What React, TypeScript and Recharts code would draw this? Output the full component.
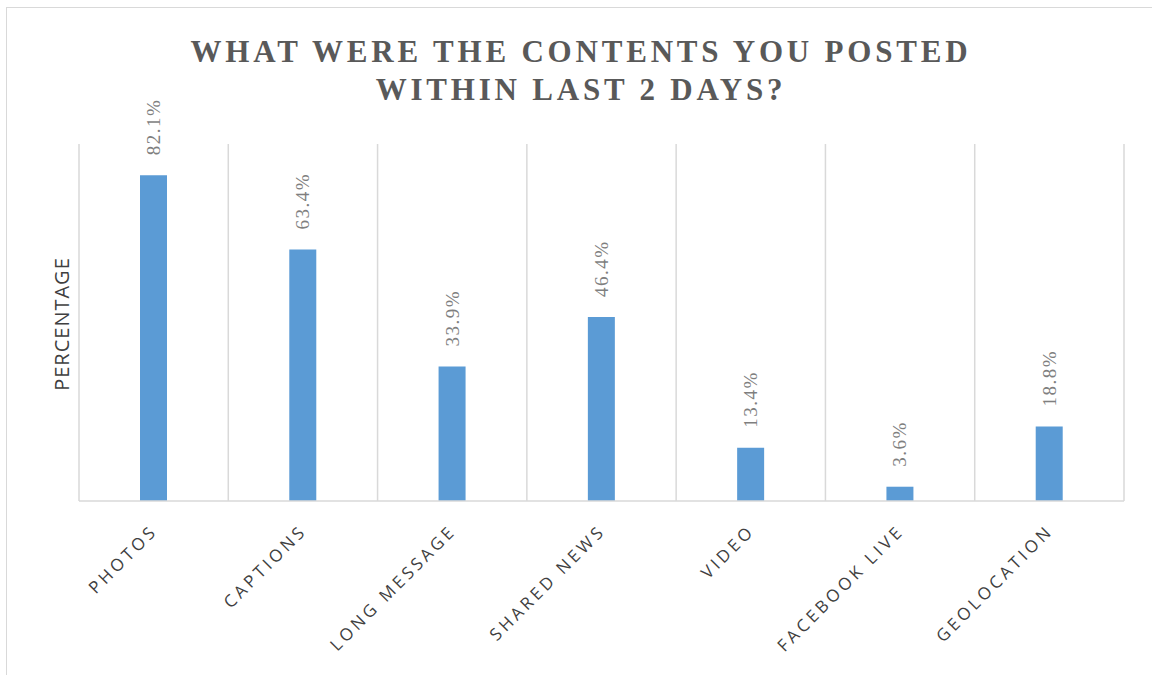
import { BarChart, Bar, XAxis, YAxis, CartesianGrid, LabelList } from 'recharts';

const categories = ['PHOTOS', 'CAPTIONS', 'LONG MESSAGE', 'SHARED NEWS', 'VIDEO', 'FACEBOOK LIVE', 'GEOLOCATION'];
const percentages = [82.1, 63.4, 33.9, 46.4, 13.4, 3.6, 18.8];

const data = categories.map((name, i) => ({ name, value: percentages[i] }));

const CategoryTick = (props: any) => {
  const { x, y, payload } = props;
  const tx = x + 5;
  const ty = y + 23;
  return (
    <text x={tx} y={ty} transform={`rotate(-45, ${tx}, ${ty})`} textAnchor="end"
      fill="#404040" fontSize={17} fontFamily="'Open Sans', sans-serif" letterSpacing={3.5}>
      {payload.value}
    </text>
  );
};

const ValueLabel = (props: any) => {
  const { x, y, width, value } = props;
  const cx = x + width / 2;
  const ty = y - 20;
  return (
    <text x={cx} y={ty} transform={`rotate(-90, ${cx}, ${ty})`} textAnchor="start" dominantBaseline="central"
      fill="#7f7f7f" fontSize={19} fontFamily="'Liberation Serif', serif" letterSpacing={1.5}>
      {`${value.toFixed(1)}%`}
    </text>
  );
};

const App = () => (
  <div style={{ position: 'absolute', left: 0, top: 0, width: 1152, height: 675, overflow: 'hidden', background: '#fff' }}>
    <div style={{ position: 'absolute', left: 6, top: 7, width: 1300, height: 800, borderLeft: '1.5px solid #d9d9d9', borderTop: '1.5px solid #d9d9d9' }} />
    <BarChart width={1152} height={675} data={data} margin={{ top: 144, right: 28, left: 79, bottom: 0 }}
      style={{ position: 'absolute', left: 0, top: 0 }}>
      <text x={581} y={62} textAnchor="middle" fill="#595959" fontSize={31} fontWeight="bold"
        fontFamily="'Liberation Serif', serif" letterSpacing={3.8}>WHAT WERE THE CONTENTS YOU POSTED</text>
      <text x={581} y={100} textAnchor="middle" fill="#595959" fontSize={31} fontWeight="bold"
        fontFamily="'Liberation Serif', serif" letterSpacing={3.8}>WITHIN LAST 2 DAYS?</text>
      <text x={69} y={324} transform="rotate(-90, 69, 324)" textAnchor="middle" fill="#404040" fontSize={20}
        fontFamily="'Open Sans', sans-serif" letterSpacing={1}>PERCENTAGE</text>
      <CartesianGrid horizontal={false} stroke="#d9d9d9" strokeWidth={1.5}
        verticalCoordinatesGenerator={({ offset }: any) =>
          Array.from({ length: categories.length + 1 }, (_, i) => offset.left + (i * offset.width) / categories.length)} />
      <XAxis dataKey="name" height={174} interval={0} tickLine={false} axisLine={{ stroke: '#d9d9d9', strokeWidth: 1.5 }}
        tick={<CategoryTick />} />
      <YAxis hide domain={[0, 90]} width={0} />
      <Bar dataKey="value" fill="#5b9bd5" barSize={27} isAnimationActive={false}>
        <LabelList dataKey="value" content={<ValueLabel />} />
      </Bar>
    </BarChart>
  </div>
);

export default App;
